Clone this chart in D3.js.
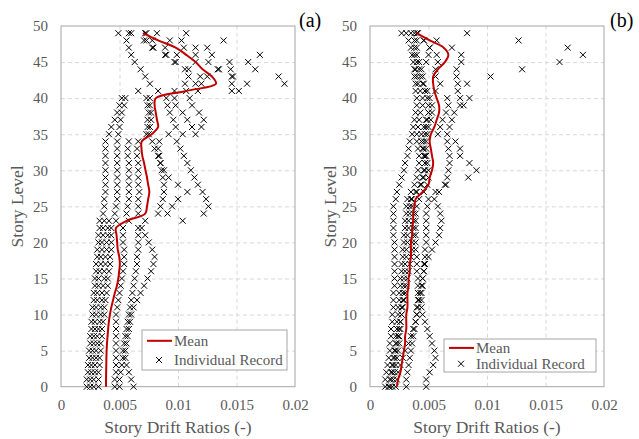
<!DOCTYPE html>
<html><head><meta charset="utf-8">
<script src="https://cdn.jsdelivr.net/npm/d3@7"></script>
</head>
<body style="margin:0">
<svg id="chart" width="639" height="439"></svg>
<script>
// ---------- data ----------
const storyLevels = d3.range(0, 50);
const xTickValues = [0, 0.005, 0.01, 0.015, 0.02];
const xTickLabels = ["0", "0.005", "0.01", "0.015", "0.02"];
const yTickValues = [0, 5, 10, 15, 20, 25, 30, 35, 40, 45, 50];
const panelLabels = ["(a)", "(b)"];
const legendLabels = ["Mean", "Individual Record"];
const xTitle = "Story Drift Ratios (-)";
const yTitle = "Story Level";

// Panel (a) individual records (story 0..49)
const recA1 = [0.0022,0.0022,0.0023,0.0023,0.0024,0.0024,0.0025,0.0025,0.0026,0.0026,0.0027,0.0027,0.0028,0.0028,0.0029,0.0029,0.003,0.003,0.0031,0.0031,0.0032,0.0032,0.0033,
  0.0033,0.0036,0.0037,0.0037,0.0038,0.0038,0.0038,0.0038,0.0038,0.0038,0.0038,0.0038,0.0041,0.0043,0.0046,0.0048,0.005,0.0052,
  0.0066,0.0076,0.0072,0.0068,0.0063,0.006,0.0058,0.0056,0.0049];
const recA2 = [0.0025,0.0025,0.0026,0.0026,0.0027,0.0027,0.0028,0.0028,0.0029,0.0029,0.003,0.003,0.0031,0.0031,0.0032,0.0032,0.0033,0.0034,0.0034,0.0035,0.0035,0.0036,0.0036,
  0.0037,0.0046,0.0047,0.0048,0.0048,0.0048,0.0048,0.0048,0.0048,0.0048,0.0048,0.0048,0.0049,0.005,0.0051,0.0052,0.0054,0.0055,
  0.0083,0.0106,0.0109,0.0106,0.0097,0.0089,0.0078,0.0071,0.0058];
const recA3 = [0.0028,0.0028,0.0029,0.0029,0.003,0.003,0.0031,0.0031,0.0032,0.0033,0.0034,0.0034,0.0035,0.0035,0.0036,0.0037,0.0037,0.0038,0.0038,0.0039,0.0039,0.004,0.004,
  0.0041,0.0056,0.0057,0.0058,0.0058,0.0058,0.0058,0.0058,0.0058,0.0057,0.0057,0.0058,0.0073,0.0074,0.0074,0.0075,0.0074,0.0073,
  0.0097,0.0115,0.0119,0.0109,0.0098,0.009,0.0079,0.0073,0.006];
const recA4 = [0.0032,0.0032,0.0032,0.0033,0.0033,0.0034,0.0034,0.0035,0.0035,0.0036,0.0037,0.0037,0.0038,0.0039,0.004,0.004,0.0041,0.0042,0.0042,0.0043,0.0043,0.0043,0.0043,
  0.0047,0.0066,0.0066,0.0066,0.0067,0.0066,0.0066,0.0066,0.0066,0.0065,0.0065,0.0066,0.0075,0.0076,0.0077,0.0077,0.0076,0.0076,
  0.0107,0.012,0.0125,0.0134,0.0115,0.0099,0.0089,0.0078,0.0072];
const recA5 = [0.0046,0.0046,0.0047,0.0047,0.0047,0.0047,0.0047,0.0047,0.0047,0.0047,0.0047,0.0048,0.0049,0.005,0.0051,0.0052,0.0053,0.0054,0.0054,0.0054,0.0053,0.0053,0.0053,
  0.0058,0.0083,0.0085,0.0087,0.0088,0.0088,0.0087,0.0086,0.0085,0.0084,0.0083,0.0084,0.0092,0.0098,0.0096,0.0093,0.0091,0.009,
  0.0117,0.0146,0.0146,0.0135,0.0126,0.0115,0.0105,0.0093,0.0073];
const recA6 = [0.005,0.005,0.0051,0.0052,0.0053,0.0053,0.0054,0.0055,0.0056,0.0057,0.0058,0.0059,0.006,0.0061,0.0062,0.0063,0.0064,0.0065,0.0065,0.0066,0.0066,0.0066,0.0066,
  0.0072,0.0122,0.0126,0.0124,0.0121,0.0117,0.0114,0.0111,0.0108,0.0105,0.0102,0.0099,0.0115,0.012,0.0122,0.0118,0.0112,0.0097,
  0.0146,0.0159,0.0147,0.0145,0.0144,0.0129,0.0115,0.0103,0.0082];
const recA7 = [0.0062,0.006,0.0058,0.0056,0.0055,0.0055,0.0056,0.0057,0.0058,0.0059,0.006,0.0062,0.0065,0.0068,0.0071,0.0074,0.0077,0.0079,0.008,0.0078,0.0075,0.0072,0.0069,
  0.0104,0.0091,0.0095,0.01,0.0108,0.01,0.0092,0.0088,0.0085,0.0083,0.008,0.0078,0.0104,0.0112,0.0108,0.0104,0.0098,0.011,
  0.0152,0.0191,0.0186,0.0166,0.016,0.017,0.0125,0.0139,0.0107];
const meanA = [0.00385,0.00385,0.00386,0.00387,0.00388,0.0039,0.00393,0.00398,0.00403,0.00409,
  0.00418,0.0043,0.00445,0.0046,0.00478,0.0049,0.00497,0.00503,0.00498,0.00485,
  0.0048,0.00475,0.0047,0.0056,0.0072,0.00735,0.00745,0.00755,0.00745,0.00735,
  0.00722,0.0071,0.00695,0.00688,0.0069,0.00775,0.0083,0.0082,0.0081,0.008,
  0.0081,0.0107,0.01325,0.0129,0.0121,0.0115,0.0107,0.0098,0.0083,0.007];

// Panel (b) individual records (story 0..49)
const recB1 = [0.0013,0.0013,0.0014,0.0015,0.0016,0.0017,0.0017,0.0018,0.0018,0.0019,0.0019,0.002,0.002,0.002,0.0021,0.0021,0.0021,0.0021,0.0021,0.0021,
  0.0021,0.002,0.002,0.002,0.002,0.002,0.0022,0.0023,0.0025,0.0027,0.0029,0.003,0.0032,0.0033,0.0034,0.0036,0.0037,0.0038,0.0039,0.004,
  0.004,0.0039,0.0039,0.0038,0.0038,0.0037,0.0036,0.0035,0.0033,0.0027];
const recB2 = [0.0016,0.0017,0.0018,0.0019,0.002,0.0021,0.0022,0.0022,0.0023,0.0023,0.0024,0.0024,0.0025,0.0025,0.0026,0.0026,0.0027,0.0027,0.0028,0.0028,
  0.0029,0.0029,0.003,0.003,0.0031,0.0031,0.0032,0.0035,0.0038,0.004,0.0041,0.0042,0.0042,0.0041,0.004,0.004,0.0041,0.0042,0.0043,0.0045,
  0.0045,0.0043,0.0041,0.004,0.0039,0.004,0.0038,0.0038,0.0038,0.0031];
const recB3 = [0.0019,0.002,0.0021,0.0022,0.0023,0.0024,0.0025,0.0025,0.0026,0.0026,0.0027,0.0027,0.0028,0.0028,0.0029,0.0029,0.003,0.003,0.0031,0.0031,
  0.0032,0.0032,0.0033,0.0033,0.0034,0.0034,0.0035,0.0039,0.0043,0.0045,0.0046,0.0047,0.0046,0.0045,0.0044,0.0044,0.0046,0.0048,0.005,0.005,
  0.0049,0.0047,0.0045,0.0043,0.0042,0.0042,0.004,0.004,0.004,0.0035];
const recB4 = [0.0031,0.0031,0.0032,0.0033,0.0034,0.0035,0.0036,0.0037,0.0038,0.0039,0.004,0.004,0.0041,0.0041,0.0041,0.0041,0.004,0.004,0.004,0.0039,
  0.0039,0.0039,0.0039,0.0039,0.0039,0.004,0.0042,0.0046,0.0049,0.005,0.005,0.0049,0.0048,0.0048,0.0048,0.0049,0.005,0.0052,0.0053,0.0053,
  0.0051,0.0049,0.0046,0.0045,0.0044,0.0048,0.005,0.0051,0.0046,0.0038];
const recB5 = [0.0048,0.0048,0.0051,0.0054,0.0056,0.0055,0.0053,0.0051,0.0049,0.0047,0.0045,0.0044,0.0044,0.0044,0.0045,0.0045,0.0046,0.0046,0.0047,0.0047,
  0.0048,0.0048,0.0048,0.0048,0.0048,0.0049,0.005,0.0056,0.0064,0.0066,0.0067,0.0068,0.0068,0.0067,0.0066,0.0058,0.006,0.0062,0.0065,0.0067,
  0.0066,0.0056,0.006,0.0056,0.0056,0.0058,0.0057,0.0051,0.0057,0.004];
const recB6 = [0.0022,0.0023,0.0024,0.0026,0.0028,0.003,0.0033,0.0035,0.0037,0.0039,0.004,0.0041,0.0042,0.0043,0.0044,0.0045,0.0046,0.0047,0.005,0.0053,
  0.0056,0.0059,0.006,0.0061,0.006,0.0058,0.0055,0.0059,0.0065,0.0084,0.0091,0.0085,0.0077,0.0077,0.0073,0.0066,0.0068,0.007,0.0072,0.0077,
  0.0077,0.0075,0.0075,0.0074,0.0074,0.0078,0.0078,0.007,0.0046,0.0041];
const recB7 = [0.0017,0.0018,0.0019,0.002,0.0021,0.0022,0.0023,0.0024,0.0025,0.0026,0.0027,0.0028,0.0029,0.003,0.0031,0.0032,0.0033,0.0034,0.0035,0.0036,
  0.0036,0.0037,0.0037,0.0037,0.0037,0.0036,0.0036,0.004,0.0044,0.0046,0.0047,0.0047,0.0047,0.0046,0.0046,0.0047,0.0048,0.0049,0.005,0.008,
  0.0085,0.0047,0.0083,0.0103,0.013,0.0162,0.0182,0.0169,0.0127,0.0083];
const meanB = [0.0023,0.0024,0.0026,0.0027,0.0028,0.0029,0.003,0.003,0.0031,0.0031,
  0.0031,0.0032,0.0032,0.0032,0.0033,0.0033,0.0034,0.0034,0.0035,0.0035,
  0.0035,0.0036,0.0036,0.0037,0.0037,0.0038,0.0039,0.0045,0.005,0.0051,
  0.0053,0.0054,0.0053,0.0052,0.0051,0.0052,0.0055,0.0057,0.0059,0.0059,
  0.0057,0.0055,0.0054,0.0054,0.0058,0.0064,0.0067,0.0063,0.0051,0.004];

const panels = [
  {records:[recA1,recA2,recA3,recA4,recA5,recA6,recA7], mean:meanA, label:panelLabels[0],
   x0:61, legend:{x:142, y:330, w:145, h:40}, tag:{x:299, y:27}, ytitleX:23},
  {records:[recB1,recB2,recB3,recB4,recB5,recB6,recB7], mean:meanB, label:panelLabels[1],
   x0:370, legend:{x:444, y:339, w:152, h:33}, tag:{x:610, y:27}, ytitleX:336}
];

// ---------- drawing ----------
const FONT = '"Liberation Serif"';
const svg = d3.select("#chart");
const plotW = 234, plotTop = 26, plotBottom = 386.7;
const textGrey = "#595959";
const gridCol = "#d9d9d9", frameCol = "#a6a6a6";
const crossPath = "M-3,-3L3,3M-3,3L3,-3";

panels.forEach(p => {
  const x = d3.scaleLinear().domain([0, 0.02]).range([p.x0, p.x0 + plotW]);
  const y = d3.scaleLinear().domain([0, 50]).range([plotBottom, plotTop]);
  const g = svg.append("g");

  // grid lines
  const gx = g.append("g").attr("transform", `translate(0,${plotBottom})`)
    .call(d3.axisBottom(x).tickValues(xTickValues.slice(1, -1)).tickSize(-(plotBottom - plotTop)).tickFormat(""));
  const gy = g.append("g").attr("transform", `translate(${p.x0},0)`)
    .call(d3.axisLeft(y).tickValues(yTickValues.slice(1, -1)).tickSize(-plotW).tickFormat(""));
  [gx, gy].forEach(a => {
    a.select(".domain").remove();
    a.selectAll("line").attr("stroke", gridCol).attr("stroke-width", 1).attr("stroke-dasharray", "4,3");
  });

  // frame
  g.append("rect").attr("x", p.x0).attr("y", plotTop).attr("width", plotW).attr("height", plotBottom - plotTop)
    .attr("fill", "none").attr("stroke", frameCol).attr("stroke-width", 1);

  // tick labels
  const ax = g.append("g").attr("transform", `translate(0,${plotBottom})`)
    .call(d3.axisBottom(x).tickValues(xTickValues).tickSize(0).tickPadding(13)
      .tickFormat((d, i) => xTickLabels[i]));
  const ay = g.append("g").attr("transform", `translate(${p.x0},0)`)
    .call(d3.axisLeft(y).tickValues(yTickValues).tickSize(0).tickPadding(13));
  [ax, ay].forEach(a => {
    a.select(".domain").remove();
    a.attr("font-family", FONT).attr("font-size", 15);
    a.selectAll("text").attr("fill", textGrey);
  });

  // axis titles
  g.append("text").attr("x", p.x0 + plotW / 2).attr("y", 433).attr("text-anchor", "middle")
    .attr("fill", textGrey).attr("font-size", 17.5).text(xTitle);
  g.append("text").attr("transform", `translate(${p.ytitleX},${(plotTop + plotBottom) / 2}) rotate(-90)`)
    .attr("text-anchor", "middle").attr("fill", textGrey).attr("font-size", 17.5).text(yTitle);

  // individual records
  p.records.forEach(rec => {
    g.append("g").selectAll("path").data(rec).join("path")
      .attr("d", crossPath)
      .attr("transform", (d, i) => `translate(${x(d)},${y(storyLevels[i])})`)
      .attr("fill", "none").attr("stroke", "#000").attr("stroke-width", 1);
  });

  // mean
  const line = d3.line().x(d => x(d[0])).y(d => y(d[1])).curve(d3.curveCatmullRom.alpha(0.5));
  g.append("path").datum(p.mean.map((v, i) => [v, storyLevels[i]]))
    .attr("d", line).attr("fill", "none").attr("stroke", "#c00000").attr("stroke-width", 2);

  // legend
  const L = p.legend;
  const lg = g.append("g");
  lg.append("rect").attr("x", L.x).attr("y", L.y).attr("width", L.w).attr("height", L.h)
    .attr("fill", "#fff").attr("stroke", frameCol).attr("stroke-width", 1);
  const r1 = L.y + (L.h * 0.27), r2 = L.y + (L.h * 0.75);
  lg.append("line").attr("x1", L.x + 5).attr("x2", L.x + 30).attr("y1", r1).attr("y2", r1)
    .attr("stroke", "#c00000").attr("stroke-width", 2);
  lg.append("text").attr("x", L.x + 32).attr("y", r1 + 5).attr("fill", textGrey)
    .attr("font-size", 15).text(legendLabels[0]);
  lg.append("path").attr("d", crossPath).attr("transform", `translate(${L.x + 17},${r2})`)
    .attr("stroke", "#000").attr("stroke-width", 1).attr("fill", "none");
  lg.append("text").attr("x", L.x + 32).attr("y", r2 + 5).attr("fill", textGrey)
    .attr("font-size", 15).text(legendLabels[1]);

  // panel tag
  svg.append("text").attr("x", p.tag.x).attr("y", p.tag.y).attr("fill", "#000")
    .attr("font-size", 20).text(p.label);
});

svg.selectAll("text").attr("font-family", FONT);
</script>
</body></html>
